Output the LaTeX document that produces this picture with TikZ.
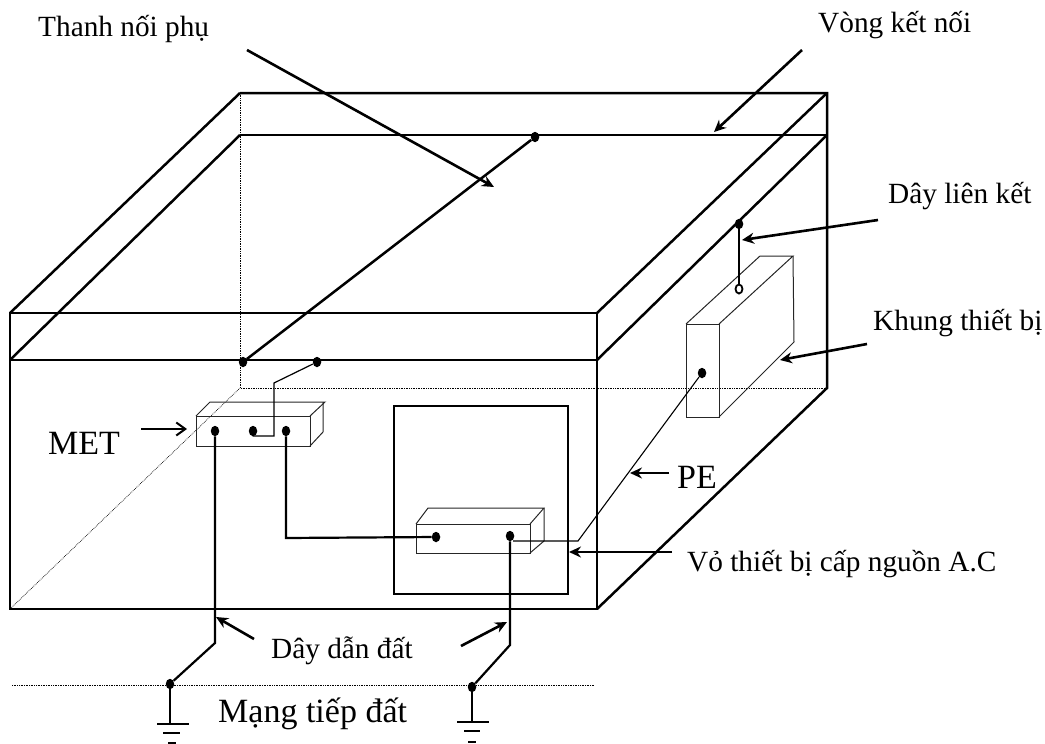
\documentclass[tikz,border=0pt]{standalone}
\usepackage{fontspec}
\setmainfont{Liberation Serif}
\usetikzlibrary{arrows.meta,shapes.geometric}

\begin{document}
\begin{tikzpicture}[x=1pt,y=-1pt,>=Stealth,
 wall/.style={line width=2.5pt},
 rim/.style={line width=2.4pt},
 hidden/.style={densely dotted,line width=0.7pt},
 thin box/.style={line width=1pt,draw=black!85},
 lead/.style={line width=2.2pt},
 callout/.style={line width=2.6pt,->,>={Stealth[length=12pt,width=11pt]}},
 term/.style={ellipse,fill=black,inner sep=0pt,minimum width=8.5pt,minimum height=10.5pt},
 ring/.style={ellipse,draw=black,line width=1.8pt,fill=white,inner sep=0pt,minimum width=7pt,minimum height=9pt},
 label/.style={font=\fontsize{29.3}{34}\selectfont,inner sep=0pt},
 biglabel/.style={font=\fontsize{34}{38}\selectfont,inner sep=0pt}]
\useasboundingbox (0,0) rectangle (1045,744);
% hidden edges
\draw[hidden] (240,93) -- (240,388) -- (827,388);
\draw[hidden] (240,388) -- (10,609);
\draw[hidden] (12,685) -- (595,685);
% room
\draw[wall] (10,313) -- (597,313) -- (597,609) -- (10,609) -- cycle;
\draw[wall] (10,360) -- (597,360);
\draw[wall] (240,93) -- (827,93) -- (827,388) -- (597,609);
\draw[wall] (240,135) -- (827,135);
\draw[wall] (10,313) -- (240,93);
\draw[wall] (10,360) -- (240,135);
\draw[wall] (597,313) -- (827,93);
\draw[wall] (597,360) -- (827,135);
% A.C supply cover
\draw[rim] (394,406) -- (568,406) -- (568,594) -- (394,594) -- cycle;
% MET bar
\draw[thin box] (196,416) rectangle (310,446);
\draw[thin box] (196,416) -- (210,402) -- (325,402) -- (310,416);
\draw[thin box] (323,402) -- (323,432) -- (310,446);
% supply bar
\draw[thin box] (416,524) rectangle (530,553);
\draw[thin box] (416,524) -- (428,508) -- (544,508) -- (530,524);
\draw[thin box] (544,508) -- (544,541) -- (530,553);
% equipment frame
\draw[thin box] (686,324) rectangle (719,417);
\draw[thin box] (686,324) -- (760,256) -- (793,256) -- (719,324);
\draw[thin box] (793,256) -- (794,342) -- (719,417);
% terminals
\node[term] (bondL) at (243,362) {};
\node[term] (bondR) at (535,137) {};
\node[term] (bondM) at (317,362) {};
\node[term] (metA) at (215,431) {};
\node[term] (metB) at (253,431) {};
\node[term] (metC) at (286,431) {};
\node[term] (acA) at (436,537) {};
\node[term] (acB) at (510,536) {};
\node[term] (equip) at (702,373) {};
\node[term] (ringTop) at (739,224) {};
\node[ring] (ringEnd) at (739,289) {};
\node[term] (earthA) at (170,684) {};
\node[term] (earthB) at (472,687) {};
\coordinate (peOut) at (513,541);
\coordinate (peBend) at (578,541);
% conductors
\draw[wall] (bondL) -- (bondR);
\draw[line width=1.2pt] (metB) -- (253,436) -- (274,436) -- (274,383) -- (bondM);
\draw[lead] (metC) -- (286,538) -- (acA);
\draw[lead] (metA) -- (215,643) -- (earthA);
\draw[lead] (acB) -- (510,645) -- (earthB);
\draw[line width=1.1pt] (peOut) -- (peBend) -- (equip);
\draw[line width=1.6pt] (ringTop) -- (ringEnd);
% earth symbols
\draw[lead] (earthA) -- (170,724) (157,724) -- (189,724) (163,733) -- (180,733) (168,743) -- (176,743);
\draw[lead] (earthB) -- (472,722) (457,722) -- (489,722) (464,731) -- (480,731) (468,742) -- (476,742);
% callouts
\draw[callout] (247,50) -- (494,187);
\draw[callout] (802,50) -- (714,132);
\draw[callout] (878,220) -- (742,240);
\draw[callout] (867,344) -- (780,360);
\draw[callout] (669,473) -- (630,473);
\draw[callout] (672,552) -- (569,552);
\draw[callout] (254,639) -- (216,617);
\draw[callout] (461,646) -- (507,622);
\draw[line width=2pt,->,>={Straight Barb[length=9pt,width=13pt]}] (141,429) -- (187,429);
% labels
\node[label,anchor=base west] (thanh) at (38,36) {Thanh nối phụ};
\node[label,anchor=base west] (vong) at (818,32) {Vòng kết nối};
\node[label,anchor=base west] (day) at (888,203) {Dây liên kết};
\node[label,anchor=base west] (khung) at (873,330) {Khung thiết bị};
\node[label,anchor=base west] (vo) at (687,571) {Vỏ thiết bị cấp nguồn A.C};
\node[label,anchor=base west] (dan) at (271,658) {Dây dẫn đất};
\node[biglabel,anchor=base west] (met) at (48,454) {MET};
\node[biglabel,anchor=base west] (pe) at (677,488) {PE};
\node[biglabel,anchor=base west] (mang) at (218,722) {Mạng tiếp đất};
\end{tikzpicture}
\end{document}
